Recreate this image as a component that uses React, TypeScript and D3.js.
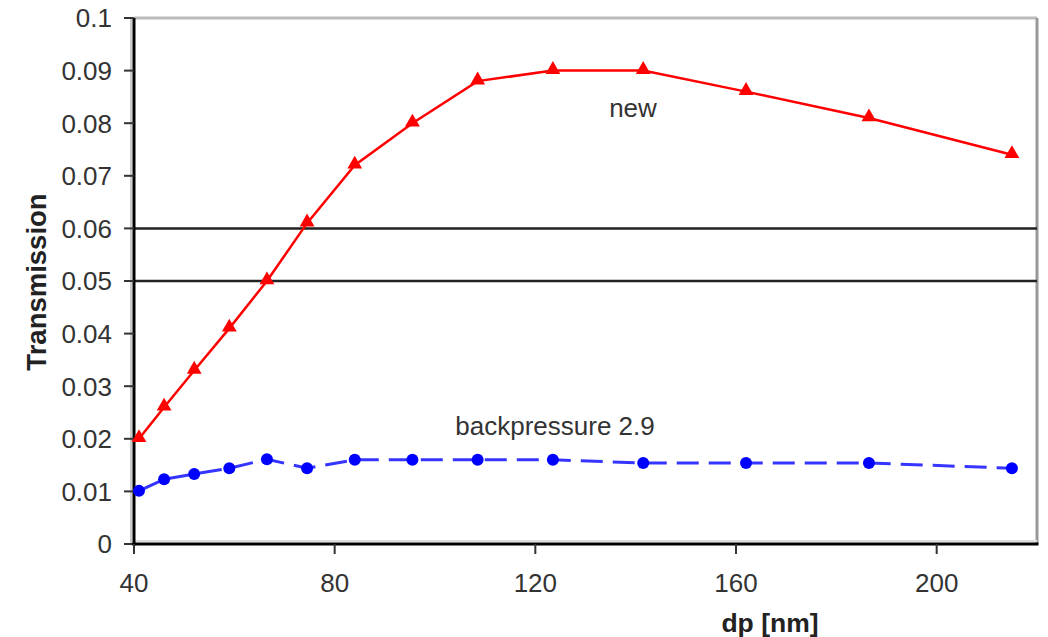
import React from "react";
import * as d3 from "d3";

// particle diameter [nm]
const dp = [41, 46, 52, 59, 66.5, 74.5, 84, 95.5, 108.5, 123.5, 141.5, 162, 186.5, 215];
const newSeries = [0.02, 0.026, 0.033, 0.041, 0.05, 0.061, 0.072, 0.08, 0.088, 0.09, 0.09, 0.086, 0.081, 0.074];
const backSeries = [0.0101, 0.0123, 0.0133, 0.0144, 0.0161, 0.0144, 0.016, 0.016, 0.016, 0.016, 0.0154, 0.0154, 0.0154, 0.0144];
const refLines = [0.06, 0.05];
const xTicks = [40, 80, 120, 160, 200];
const yTicks = [0, 0.01, 0.02, 0.03, 0.04, 0.05, 0.06, 0.07, 0.08, 0.09, 0.1];

const width = 1048;
const height = 637;
const left = 134;
const right = 1037;
const top = 18;
const bottom = 544;
const font = "'Liberation Sans', Arial, sans-serif";

export default function App() {
  const x = d3.scaleLinear().domain([40, 220]).range([left, right]);
  const y = d3.scaleLinear().domain([0, 0.1]).range([bottom, top]);

  const line = d3
    .line<number>()
    .x((_, i) => x(dp[i]))
    .y((d) => y(d));

  const triangle = d3.symbol().type(d3.symbolTriangle).size(95);

  return (
    <div style={{ position: "fixed", left: 0, top: 0 }}>
      <svg width={width} height={height} style={{ display: "block", background: "#fff" }}>
        {/* plot frame */}
        <line x1={left - 3} x2={left - 3} y1={top} y2={bottom} stroke="#ccc" strokeWidth={2} />
        <line x1={left} x2={right} y1={top} y2={top} stroke="#bbb" strokeWidth={3} />
        <line x1={right} x2={right} y1={top} y2={bottom} stroke="#999" strokeWidth={3} />
        <line x1={left} x2={right} y1={bottom - 3} y2={bottom - 3} stroke="#ddd" strokeWidth={2} />

        {/* reference lines */}
        {refLines.map((v) => (
          <line key={v} x1={left} x2={right} y1={y(v)} y2={y(v)} stroke="#222" strokeWidth={2.5} />
        ))}

        {/* y axis */}
        <line x1={left} x2={left} y1={top} y2={bottom + 1.5} stroke="#000" strokeWidth={3} />
        {yTicks.map((t) => (
          <g key={t}>
            <line x1={left - 10} x2={left} y1={y(t)} y2={y(t)} stroke="#333" strokeWidth={2} />
            <text
              x={112}
              y={y(t)}
              dy="0.36em"
              textAnchor="end"
              fontFamily={font}
              fontSize={26}
              fill="#333"
            >
              {String(+t.toFixed(2))}
            </text>
          </g>
        ))}

        {/* x axis */}
        <line x1={left - 1.5} x2={right + 1.5} y1={bottom} y2={bottom} stroke="#000" strokeWidth={3} />
        {xTicks.map((t) => (
          <g key={t}>
            <line x1={x(t)} x2={x(t)} y1={bottom} y2={bottom + 10} stroke="#333" strokeWidth={2} />
            <text
              x={x(t)}
              y={583}
              dy="0.36em"
              textAnchor="middle"
              fontFamily={font}
              fontSize={26}
              fill="#333"
            >
              {t}
            </text>
          </g>
        ))}

        {/* axis titles */}
        <text
          transform={`translate(46,282) rotate(-90)`}
          textAnchor="middle"
          fontFamily={font}
          fontSize={27.5}
          fontWeight="bold"
          fill="#222"
        >
          Transmission
        </text>
        <text
          x={770}
          y={622}
          dy="0.36em"
          textAnchor="middle"
          fontFamily={font}
          fontSize={26.5}
          fontWeight="bold"
          fill="#222"
        >
          dp [nm]
        </text>

        {/* backpressure series */}
        <path
          d={line(backSeries) ?? ""}
          fill="none"
          stroke="#3535ff"
          strokeWidth={3}
          strokeDasharray="22 10"
        />
        {backSeries.map((v, i) => (
          <circle key={i} cx={x(dp[i])} cy={y(v)} r={6} fill="#0000ff" />
        ))}

        {/* new series */}
        <path d={line(newSeries) ?? ""} fill="none" stroke="#ff0000" strokeWidth={2.5} />
        {newSeries.map((v, i) => (
          <path
            key={i}
            d={triangle() ?? ""}
            transform={`translate(${x(dp[i])},${y(v) - 1})`}
            fill="#ff0000"
          />
        ))}

        {/* series labels */}
        <text x={633} y={117} textAnchor="middle" fontFamily={font} fontSize={26} fill="#333">
          new
        </text>
        <text x={555} y={435} textAnchor="middle" fontFamily={font} fontSize={26} fill="#333">
          backpressure 2.9
        </text>
      </svg>
    </div>
  );
}
